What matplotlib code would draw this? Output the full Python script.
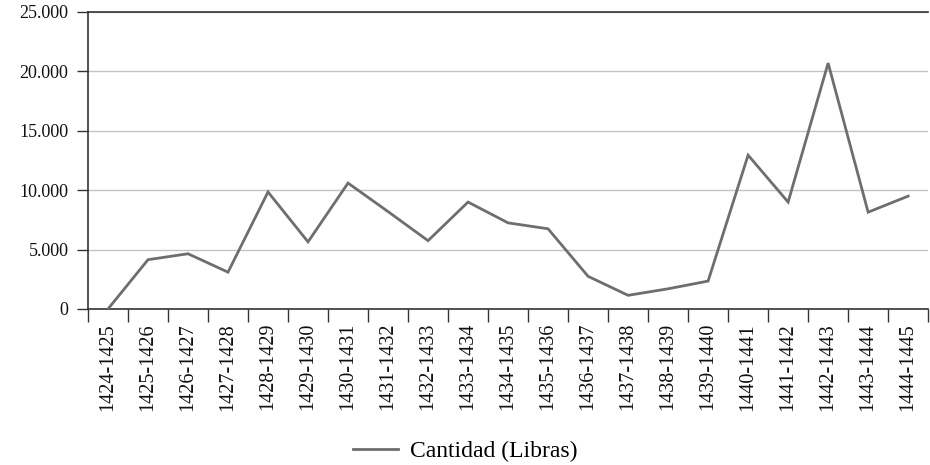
import matplotlib
matplotlib.use('Agg')
import matplotlib.pyplot as plt
import matplotlib.ticker as mticker

# ── Data ──────────────────────────────────────────────────────────────────────
PERIODS = ['1424-1425', '1425-1426', '1426-1427', '1427-1428', '1428-1429',
           '1429-1430', '1430-1431', '1431-1432', '1432-1433', '1433-1434',
           '1434-1435', '1435-1436', '1436-1437', '1437-1438', '1438-1439',
           '1439-1440', '1440-1441', '1441-1442', '1442-1443', '1443-1444',
           '1444-1445']
LIBRAS = [0, 4150, 4650, 3100, 9850, 5650, 10600, 8200, 5750, 9000,
          7250, 6750, 2750, 1150, 1700, 2350, 12950, 9000, 20700, 8150, 9500]
Y_TICKS = [0, 5000, 10000, 15000, 20000, 25000]
SERIES_LABEL = 'Cantidad (Libras)'

# ── Style ─────────────────────────────────────────────────────────────────────
plt.rcParams['font.family'] = ['Liberation Serif', 'DejaVu Serif']
LINE_COLOR = '#6e6e6e'
GRID_COLOR = '#c4c4c4'
AXIS_COLOR = '#333333'

fig = plt.figure(figsize=(9.3, 4.65), dpi=100)
ax = fig.add_axes([0.0946, 0.3355, 0.9034, 0.6387])

x = list(range(len(PERIODS)))
ax.plot(x, LIBRAS, color=LINE_COLOR, linewidth=2.0, label=SERIES_LABEL,
        solid_joinstyle='miter', zorder=3)

ax.set_xlim(-0.5, len(PERIODS) - 0.5)
ax.set_ylim(0, 25000)

# y axis
ax.set_yticks(Y_TICKS)
ax.yaxis.set_major_formatter(
    mticker.FuncFormatter(lambda v, p: f'{int(v):,}'.replace(',', '.')))
ax.yaxis.grid(True, color=GRID_COLOR, linewidth=1.0, zorder=0)
ax.tick_params(axis='y', length=8, width=1, color=AXIS_COLOR, pad=6,
               labelsize=13, labelcolor='#111111')

# x axis: labels at centres, tick marks at boundaries
ax.set_xticks(x)
ax.set_xticklabels(PERIODS, rotation=90)
ax.set_xticks([i - 0.5 for i in range(len(PERIODS) + 1)], minor=True)
ax.tick_params(axis='x', which='major', length=0, pad=10, labelsize=14.5,
               labelcolor='#111111')
ax.tick_params(axis='x', which='minor', length=9, width=1, color=AXIS_COLOR)

for side in ['left', 'bottom', 'top']:
    ax.spines[side].set_color(AXIS_COLOR)
    ax.spines[side].set_linewidth(1.2)
ax.spines['right'].set_visible(False)
ax.set_axisbelow(True)

fig.legend(loc='center', bbox_to_anchor=(0.5, 0.03), frameon=False,
           fontsize=17, handlelength=1.9, handletextpad=0.5,
           borderpad=0.1)

fig.savefig('out.png', dpi=100)
